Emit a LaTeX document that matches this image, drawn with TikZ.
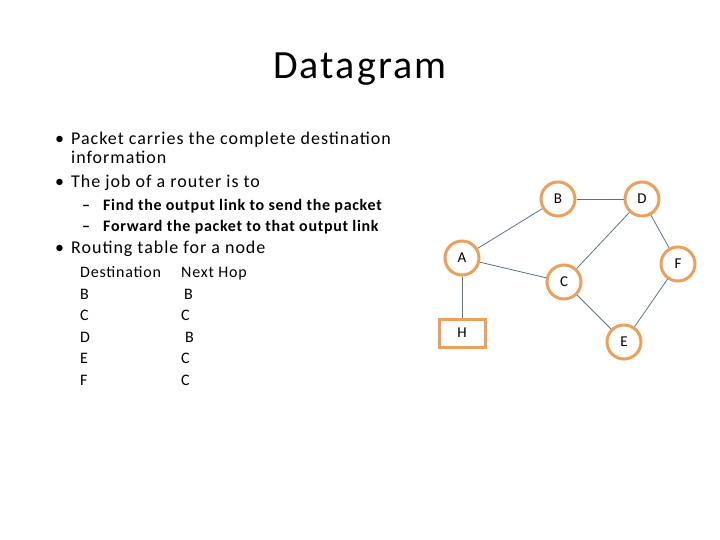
\documentclass[tikz,border=0pt]{standalone}
\usepackage{fontspec}
\setmainfont{Carlito}
\newfontfamily\titlefont[LetterSpace=5.3]{Carlito}
\newfontfamily\mainfont[LetterSpace=5.5]{Carlito}
\newfontfamily\subfont[LetterSpace=4.3]{Carlito Bold}
\newfontfamily\tabfont[LetterSpace=5.0]{Carlito}
\definecolor{nodeor}{RGB}{236,160,92}
\definecolor{edgec}{RGB}{90,115,135}
\begin{document}
\begin{tikzpicture}[x=1pt,y=-1pt,
  rnode/.style={circle,draw=nodeor,line width=3pt,minimum size=34pt,inner sep=0pt,font=\fontsize{15}{15}\selectfont},
  hnode/.style={rectangle,draw=nodeor,line width=3pt,minimum width=46pt,minimum height=28pt,inner sep=0pt,font=\fontsize{15}{15}\selectfont},
  edge/.style={draw=edgec,line width=0.8pt},
  txt/.style={anchor=base west,inner sep=0pt,font=\mainfont\fontsize{18}{18}\selectfont},
  stxt/.style={anchor=base west,inner sep=0pt,font=\subfont\fontsize{16}{16}\selectfont},
  ttxt/.style={anchor=base west,inner sep=0pt,font=\tabfont\fontsize{16}{16}\selectfont},
  bul/.style={anchor=base west,inner sep=0pt,font=\fontsize{18}{18}\selectfont}]
\useasboundingbox (0,0) rectangle (720,540);
\node[anchor=base,inner sep=0pt,font=\titlefont\fontsize{40}{40}\selectfont] (title) at (360,79) {Datagram};
\node[bul] (b1) at (55,145) {•};
\node[txt] (t1) at (71,145) {Packet carries the complete destination};
\node[txt] (t1b) at (71,164) {information};
\node[bul] (b2) at (55,188) {•};
\node[txt] (t2) at (71,188) {The job of a router is to};
\node[stxt] (d1) at (82,211) {–};
\node[stxt] (s1) at (103,211) {Find the output link to send the packet};
\node[stxt] (d2) at (82,232) {–};
\node[stxt] (s2) at (103,232) {Forward the packet to that output link};
\node[bul] (b3) at (55,254) {•};
\node[txt] (t3) at (71,254) {Routing table for a node};
\node[ttxt] (h1) at (80,277) {Destination};
\node[ttxt] (h2) at (181,277) {Next Hop};
\node[ttxt] (r1a) at (80,299) {B};   \node[ttxt] (r1b) at (184,299) {B};
\node[ttxt] (r2a) at (80,320) {C};   \node[ttxt] (r2b) at (181,320) {C};
\node[ttxt] (r3a) at (80,342) {D};   \node[ttxt] (r3b) at (185,342) {B};
\node[ttxt] (r4a) at (80,363) {E};   \node[ttxt] (r4b) at (181,363) {C};
\node[ttxt] (r5a) at (80,385) {F};   \node[ttxt] (r5b) at (181,385) {C};
\node[rnode] (A) at (462,258) {A};
\node[rnode] (B) at (558,199) {B};
\node[rnode] (C) at (564,282) {C};
\node[rnode] (D) at (642,199) {D};
\node[rnode] (E) at (624,342) {E};
\node[rnode] (F) at (678,264) {F};
\node[hnode] (H) at (462,333) {H};
\draw[edge] (A) -- (B);
\draw[edge] (A) -- (C);
\draw[edge] (A) -- (H);
\draw[edge] (B) -- (D);
\draw[edge] (D) -- (C);
\draw[edge] (D) -- (F);
\draw[edge] (C) -- (E);
\draw[edge] (E) -- (F);
\end{tikzpicture}
\end{document}
